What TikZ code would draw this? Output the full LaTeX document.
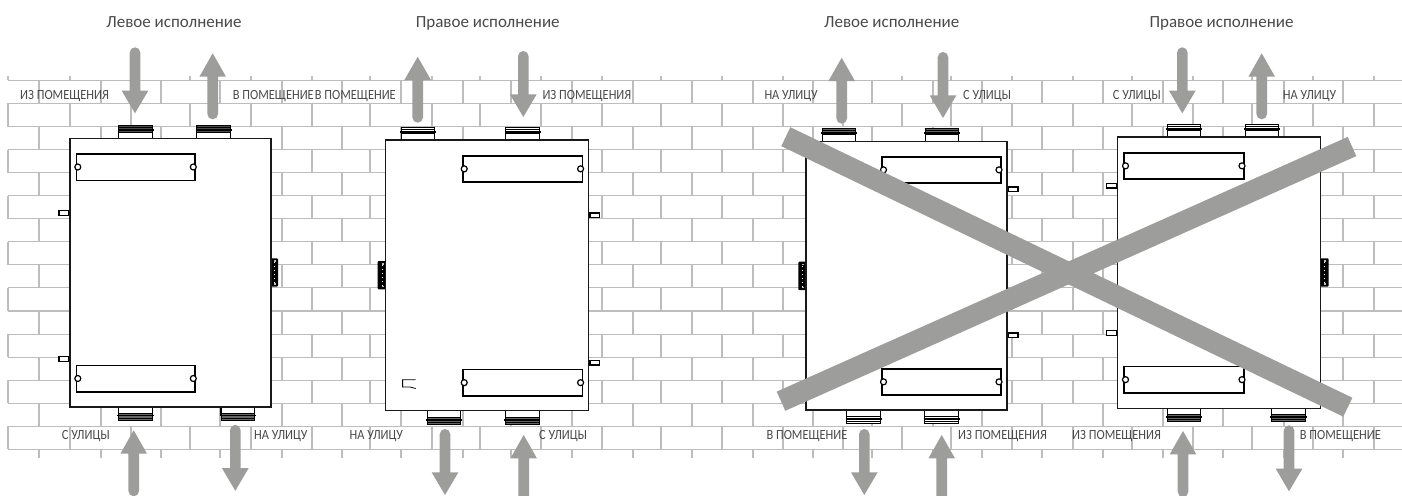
\documentclass[tikz,border=0pt]{standalone}
\usepackage{fontspec}
\setmainfont{Carlito}
\newfontfamily\narrowlab[FakeStretch=0.885]{Carlito}
\definecolor{gar}{HTML}{9D9D9C}
\definecolor{brk}{HTML}{BDBDBD}
\definecolor{txt}{HTML}{4A4A4A}
\tikzset{
  brickline/.style={draw=brk,line width=1.1pt},
  body/.style={draw=black!90,fill=white,line width=1.5pt},
  plate/.style={draw=black,fill=white,line width=1.6pt},
  hole/.style={draw=black,fill=white,line width=1.2pt},
  pin/.style={draw=black,fill=white,line width=1.1pt},
  flowarrow/.style={fill=gar,draw=none},
  crossbar/.style={draw=gar,line width=21pt},
  toplabel/.style={anchor=base,inner sep=0pt,text=txt,font=\fontsize{17}{17}\selectfont},
  walllabel/.style={anchor=base west,inner sep=0pt,text=txt,font=\narrowlab\fontsize{14}{14}\selectfont},
}
% flow arrows: x, top of the shape
\newcommand{\flowdown}[2]{%
  \fill[flowarrow] ({#1-5.3},{#2+5.3}) arc[start angle=180,end angle=360,radius=5.3]
    -- ({#1+5.3},{#2+43.4}) -- ({#1+13.3},{#2+43.4}) -- (#1,{#2+66}) -- ({#1-13.3},{#2+43.4}) -- ({#1-5.3},{#2+43.4}) -- cycle;}
\newcommand{\flowup}[2]{%
  \fill[flowarrow] (#1,#2) -- ({#1+13.3},{#2+23.4}) -- ({#1+5.3},{#2+23.4}) -- ({#1+5.3},{#2+60.7})
    arc[start angle=0,end angle=180,radius=5.3] -- ({#1-5.3},{#2+23.4}) -- ({#1-13.3},{#2+23.4}) -- cycle;}
% collars: left x, outer y, y of the body, band colour
\newcommand{\collartop}[4]{%
  \draw[pin] (#1,{#2+5}) rectangle ({#1+33.5},#3);
  \draw[draw=black,fill=#4,line width=.9pt] (#1,#2) rectangle ({#1+33.5},{#2+6.5});
  \draw[black,line width=.7pt] (#1,{#2+2}) -- ({#1+33.5},{#2+2});
  \draw[black,line width=1.6pt] ({#1-1.3},{#2+4.5}) -- ({#1+34.8},{#2+4.5});}
\newcommand{\collarbot}[4]{%
  \draw[pin] (#1,#3) rectangle ({#1+33.5},{#2-5});
  \draw[draw=black,fill=#4,line width=.9pt] (#1,{#2-6.5}) rectangle ({#1+33.5},#2);
  \draw[black,line width=.7pt] (#1,{#2-2}) -- ({#1+33.5},{#2-2});
  \draw[black,line width=1.6pt] ({#1-1.3},{#2-4.5}) -- ({#1+34.8},{#2-4.5});}
% plate: x1,x2,y1,y2
\newcommand{\plate}[4]{%
  \draw[plate] (#1,#3) rectangle (#2,#4);
  \draw[hole] ({#1+1.5},{(#3+#4)/2}) circle[radius=3];
  \draw[hole] ({#2-1.7},{(#3+#4)/2}) circle[radius=3];}
\newcommand{\pinL}[2]{\draw[pin] (#1,{#2-2.3}) rectangle ({#1-11},{#2+2.3});
  \fill[black] (#1,{#2-3}) rectangle ({#1-1.8},{#2+3});}
\newcommand{\pinR}[2]{\draw[pin] (#1,{#2-2.3}) rectangle ({#1+11},{#2+2.3});
  \fill[black] (#1,{#2-3}) rectangle ({#1+1.8},{#2+3});}
% terminal strip: x1,x2,y1
\newcommand{\strip}[3]{%
  \fill[black,rounded corners=1pt] (#1,#3) rectangle (#2,{#3+28.4});
  \foreach \k in {4,8,...,24}{\fill[white] ({(#1+#2)/2-.35},{#3+\k}) rectangle ({(#1+#2)/2+.35},{#3+\k+.8});}
  \fill[black!25] ({(#1+#2)/2},{#3+2}) rectangle ({(#1+#2)/2+1.6},{#3+3.6});
  \fill[black!25] ({(#1+#2)/2},{#3+24.8}) rectangle ({(#1+#2)/2+1.6},{#3+26.4});}
\begin{document}
\begin{tikzpicture}[x=1pt,y=-1pt]
\useasboundingbox (0,0) rectangle (1402,495);
\fill[white] (0,0) rectangle (1402,495);
% brick wall
\foreach \r in {0,...,16}{\draw[brickline] (8,{80.4+23.06*\r}) -- (1402,{80.4+23.06*\r});}
\foreach \x in {8,70,131,190,251,312,370,432,480,541,602,661,722,783,843,902,951,1012,1073,1132,1193,1252,1313,1374}{
  \foreach \r in {1,3,...,15}{\draw[brickline] (\x,{80.4+23.06*\r}) -- (\x,{80.4+23.06*(\r+1)});}
  \draw[brickline] (\x,76) -- (\x,80.4);
}
\foreach \x in {39,101,161,220,282,342,401,463,511,572,633,692,753,813,872,933,982,1042,1103,1163,1223,1284,1343}{
  \foreach \r in {0,2,...,14}{\draw[brickline] (\x,{80.4+23.06*\r}) -- (\x,{80.4+23.06*(\r+1)});}
  \draw[brickline] (\x,449.4) -- (\x,458);
}
% titles
\node[toplabel] at (174,28) {Левое исполнение};
\node[toplabel] at (487.7,28) {Правое исполнение};
\node[toplabel] at (891.7,28) {Левое исполнение};
\node[toplabel] at (1221.5,28) {Правое исполнение};
% wall labels
\node[walllabel] at (20,99) {ИЗ ПОМЕЩЕНИЯ};
\node[walllabel] at (232.7,99) {В ПОМЕЩЕНИЕ};
\node[walllabel] at (314.7,99) {В ПОМЕЩЕНИЕ};
\node[walllabel] at (542.3,99) {ИЗ ПОМЕЩЕНИЯ};
\node[walllabel] at (764.3,99) {НА УЛИЦУ};
\node[walllabel] at (963,99) {С УЛИЦЫ};
\node[walllabel] at (1112.7,99) {С УЛИЦЫ};
\node[walllabel] at (1282.7,99) {НА УЛИЦУ};
\node[walllabel] at (61.7,439) {С УЛИЦЫ};
\node[walllabel] at (254,439) {НА УЛИЦУ};
\node[walllabel] at (349.5,439) {НА УЛИЦУ};
\node[walllabel] at (539,439) {С УЛИЦЫ};
\node[walllabel] at (766.3,439) {В ПОМЕЩЕНИЕ};
\node[walllabel] at (958,439) {ИЗ ПОМЕЩЕНИЯ};
\node[walllabel] at (1072,439) {ИЗ ПОМЕЩЕНИЯ};
\node[walllabel] at (1299.7,439) {В ПОМЕЩЕНИЕ};
% unit 1
\collartop{118.9}{125.5}{138.3}{black!70}
\collartop{196.8}{125.5}{138.3}{black!70}
\collarbot{118.7}{420}{407}{black!60}
\collarbot{221}{420}{407}{black!60}
\pinL{70}{213}\pinL{70}{359}
\strip{270.5}{278}{258.3}
\draw[body] (70,138.3) rectangle (271,407);
\plate{76.3}{195}{153.7}{180.3}
\plate{76.3}{195}{365.3}{391.7}
% unit 2
\collartop{401.3}{127.3}{140}{white}
\collartop{505.8}{127.3}{140}{white}
\collarbot{427.3}{424.3}{410.7}{black!60}
\collarbot{505.6}{424.3}{410.7}{black!60}
\pinR{588.7}{215.3}\pinR{588.7}{362.7}
\strip{377.7}{386.2}{261}
\draw[body] (385.7,140) rectangle (588.7,410.7);
\plate{462.7}{582.3}{155.7}{182}
\plate{462.7}{582.3}{369.3}{396}
\draw[black,line width=.8pt] (415.7,379.8) -- (402.6,379.8) -- (402.6,387) -- (410,387) -- (415.7,388.5);
% unit 3
\collartop{822.3}{128.3}{141.3}{black!60}
\collartop{925.1}{128.3}{141.3}{black!60}
\collarbot{846.8}{423.3}{410}{white}
\collarbot{924.8}{423.3}{410}{white}
\pinR{1007}{189.3}\pinR{1007}{335.3}
\strip{798.3}{806.2}{261.7}
\draw[body] (806,141.3) rectangle (1007,410);
\plate{882}{1000.7}{156.7}{183}
\plate{882}{1000.7}{368.7}{395}
% unit 4
\collartop{1167.3}{124.3}{137}{white}
\collartop{1245.4}{124.3}{137}{white}
\collarbot{1167.3}{421.3}{408.3}{black!60}
\collarbot{1271.7}{421.3}{408.3}{black!60}
\pinL{1117.7}{185.7}\pinL{1117.7}{333}
\strip{1320.2}{1328.7}{258.3}
\draw[body] (1117.7,137) rectangle (1320.7,408.3);
\plate{1124}{1243.7}{152.7}{179}
\plate{1124}{1243.7}{366.3}{393}
% flow arrows
\flowdown{135}{47.3}\flowup{212.7}{53.3}
\flowup{133.7}{430.3}\flowdown{235.3}{424.8}
\flowup{417.7}{56.7}\flowdown{523.3}{51}
\flowdown{445}{429}\flowup{523.7}{435}
\flowup{841.7}{57.7}\flowdown{943}{52}
\flowdown{864.3}{429}\flowup{941.7}{435}
\flowdown{1182.3}{47.3}\flowup{1261.7}{53.3}
\flowup{1183}{431}\flowdown{1289}{425.3}
% prohibiting cross
\draw[crossbar] (785.8,136.7) -- (1347.8,407.2);
\draw[crossbar] (1352,146.5) -- (781,401.2);
\end{tikzpicture}
\end{document}
